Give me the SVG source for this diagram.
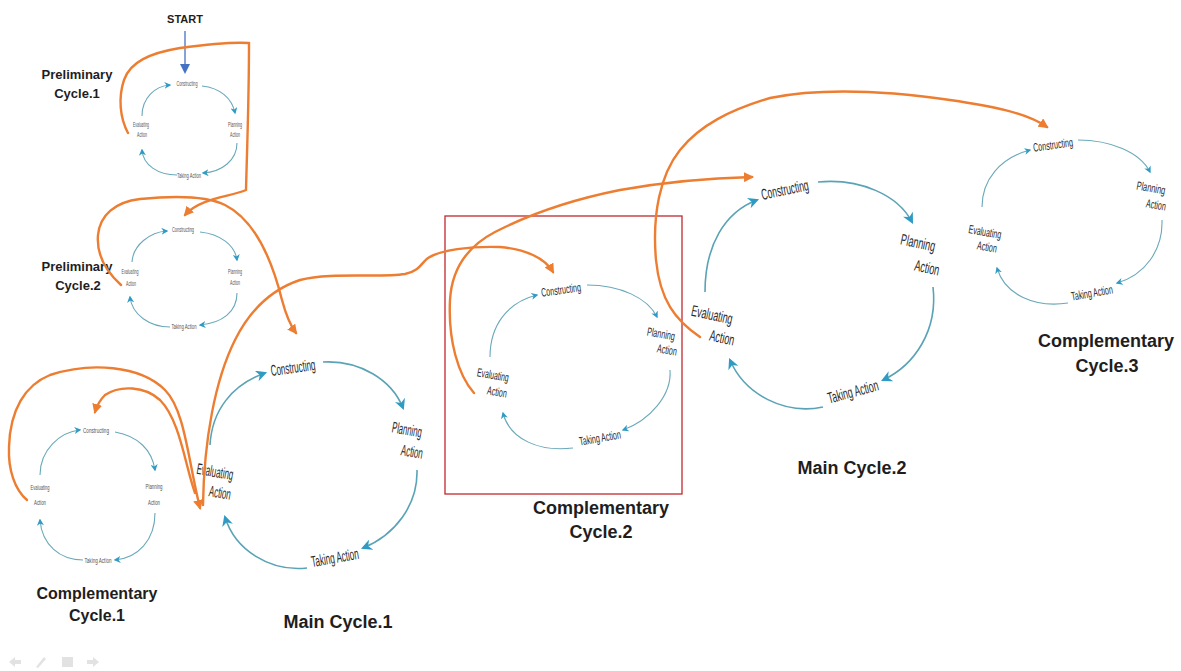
<svg xmlns="http://www.w3.org/2000/svg" width="1181" height="671" viewBox="0 0 1181 671">
  <defs>
    <marker id="ah-orange" viewBox="0 0 10 10" refX="8" refY="5" markerWidth="10" markerHeight="10" markerUnits="userSpaceOnUse" orient="auto">
      <path d="M0,0 L10,5 L0,10 z" fill="#ED7D31"/>
    </marker>
    <marker id="ah-teal" viewBox="0 0 10 10" refX="8" refY="5" markerWidth="7" markerHeight="7" markerUnits="userSpaceOnUse" orient="auto">
      <path d="M0,0 L10,5 L0,10 L3,5 z" fill="#2f9bc4"/>
    </marker>
    <marker id="ah-teal-lg" viewBox="0 0 10 10" refX="8" refY="5" markerWidth="11" markerHeight="11" markerUnits="userSpaceOnUse" orient="auto">
      <path d="M0,0 L10,5 L0,10 L3,5 z" fill="#2f9bc4"/>
    </marker>
    <marker id="ah-blue" viewBox="0 0 10 10" refX="8" refY="5" markerWidth="10" markerHeight="10" markerUnits="userSpaceOnUse" orient="auto">
      <path d="M0,0 L10,5 L0,10 z" fill="#4472C4"/>
    </marker>
  </defs>
  <style>
    .bg { fill: #ffffff; }
    .title { font-family: "Liberation Sans", Arial, sans-serif; font-weight: bold; fill: #1e1e1e; text-anchor: middle; }
    .step { font-family: "Liberation Sans", Arial, sans-serif; fill: #2a2a2a; text-anchor: middle; }
    .step-sm { font-size: 7.5px; fill: #555555; }
    .step-md { font-size: 12px; }
    .step-lg { font-size: 15.5px; }
    .arc { fill: none; stroke: #6aa9b9; stroke-width: 1.1; marker-end: url(#ah-teal); }
    .arc-lg { fill: none; stroke: #5aa3b6; stroke-width: 1.6; marker-end: url(#ah-teal-lg); }
    .link { fill: none; stroke: #ED7D31; stroke-width: 2.4; stroke-linecap: round; marker-end: url(#ah-orange); }
    .frame { fill: none; stroke: #c0282d; stroke-width: 1.3; }
    .ui { fill: #e2e2e2; }
  </style>

  <rect class="bg" x="0" y="0" width="1181" height="671"/>

  <!-- start marker -->
  <g id="start">
    <text class="title" x="185" y="23" font-size="11">START</text>
    <line x1="185" y1="31" x2="185" y2="72" stroke="#4472C4" stroke-width="1.3" marker-end="url(#ah-blue)"/>
  </g>

  <!-- Preliminary Cycle.1 -->
  <g id="preliminary-cycle-1">
    <text class="title" x="77" y="79" font-size="13">Preliminary</text>
    <text class="title" x="77" y="98" font-size="13">Cycle.1</text>
    <path class="arc" d="M142,116 C142,98 155,86 170,85"/>
    <path class="arc" d="M202,86 C220,88 232,98 235,113"/>
    <path class="arc" d="M237,143 C237,160 222,172 203,173"/>
    <path class="arc" d="M177,175 C158,175 143,165 142,150"/>
    <text class="step step-sm" x="187" y="86" textLength="21" lengthAdjust="spacingAndGlyphs">Constructing</text>
    <text class="step step-sm" x="235" y="127" textLength="14" lengthAdjust="spacingAndGlyphs">Planning</text>
    <text class="step step-sm" x="235" y="137" textLength="10" lengthAdjust="spacingAndGlyphs">Action</text>
    <text class="step step-sm" x="189" y="178" textLength="24" lengthAdjust="spacingAndGlyphs">Taking Action</text>
    <text class="step step-sm" x="141" y="127" textLength="16" lengthAdjust="spacingAndGlyphs">Evaluating</text>
    <text class="step step-sm" x="142" y="137" textLength="10" lengthAdjust="spacingAndGlyphs">Action</text>
  </g>

  <!-- Preliminary Cycle.2 -->
  <g id="preliminary-cycle-2">
    <text class="title" x="77" y="271" font-size="13">Preliminary</text>
    <text class="title" x="78" y="290" font-size="13">Cycle.2</text>
    <path class="arc" d="M132,262 C133,245 150,232 167,231"/>
    <path class="arc" d="M200,232 C220,234 235,245 237,260"/>
    <path class="arc" d="M237,293 C237,312 222,323 200,325"/>
    <path class="arc" d="M170,327 C150,327 132,315 130,297"/>
    <text class="step step-sm" x="183" y="232" textLength="22" lengthAdjust="spacingAndGlyphs">Constructing</text>
    <text class="step step-sm" x="235" y="274" textLength="14" lengthAdjust="spacingAndGlyphs">Planning</text>
    <text class="step step-sm" x="235" y="285" textLength="10" lengthAdjust="spacingAndGlyphs">Action</text>
    <text class="step step-sm" x="184" y="329" textLength="25" lengthAdjust="spacingAndGlyphs">Taking Action</text>
    <text class="step step-sm" x="130" y="274" textLength="17" lengthAdjust="spacingAndGlyphs">Evaluating</text>
    <text class="step step-sm" x="131" y="286" textLength="10" lengthAdjust="spacingAndGlyphs">Action</text>
  </g>

  <!-- Complementary Cycle.1 -->
  <g id="complementary-cycle-1">
    <text class="title" x="97" y="599" font-size="16">Complementary</text>
    <text class="title" x="97" y="621" font-size="16">Cycle.1</text>
    <path class="arc" d="M40,475 C40,450 60,432 80,430"/>
    <path class="arc" d="M115,432 C138,436 152,450 155,470"/>
    <path class="arc" d="M155,513 C155,540 138,558 115,560"/>
    <path class="arc" d="M83,560 C60,560 42,545 40,520"/>
    <text class="step step-sm" x="96" y="433" textLength="26" lengthAdjust="spacingAndGlyphs">Constructing</text>
    <text class="step step-sm" x="154" y="489" textLength="17" lengthAdjust="spacingAndGlyphs">Planning</text>
    <text class="step step-sm" x="154" y="505" textLength="12" lengthAdjust="spacingAndGlyphs">Action</text>
    <text class="step step-sm" x="98" y="563" textLength="27" lengthAdjust="spacingAndGlyphs">Taking Action</text>
    <text class="step step-sm" x="40" y="490" textLength="19" lengthAdjust="spacingAndGlyphs">Evaluating</text>
    <text class="step step-sm" x="40" y="505" textLength="12" lengthAdjust="spacingAndGlyphs">Action</text>
  </g>

  <!-- Main Cycle.1 -->
  <g id="main-cycle-1">
    <text class="title" x="338" y="628" font-size="18">Main Cycle.1</text>
    <path class="arc-lg" d="M210,445 C212,410 232,385 265,373"/>
    <path class="arc-lg" d="M323,362 C360,360 392,380 403,408"/>
    <path class="arc-lg" d="M417,470 C418,505 395,535 363,548"/>
    <path class="arc-lg" d="M307,568 C270,572 235,550 225,517"/>
    <text class="step step-lg" transform="translate(293,368) rotate(-8)" y="5" textLength="45" lengthAdjust="spacingAndGlyphs">Constructing</text>
    <text class="step step-lg" transform="translate(407,430) rotate(10)" y="5" textLength="30" lengthAdjust="spacingAndGlyphs">Planning</text>
    <text class="step step-lg" transform="translate(412,452) rotate(10)" y="5" textLength="22" lengthAdjust="spacingAndGlyphs">Action</text>
    <text class="step step-lg" transform="translate(335,558) rotate(-10)" y="5" textLength="48" lengthAdjust="spacingAndGlyphs">Taking Action</text>
    <text class="step step-lg" transform="translate(215,472) rotate(10)" y="5" textLength="37" lengthAdjust="spacingAndGlyphs">Evaluating</text>
    <text class="step step-lg" transform="translate(220,493) rotate(10)" y="5" textLength="22" lengthAdjust="spacingAndGlyphs">Action</text>
  </g>

  <!-- Complementary Cycle.2 -->
  <g id="complementary-cycle-2">
    <rect class="frame" x="445" y="216" width="237" height="278"/>
    <text class="title" x="601" y="514" font-size="18">Complementary</text>
    <text class="title" x="601" y="538" font-size="18">Cycle.2</text>
    <path class="arc" d="M490,357 C490,325 508,302 537,295"/>
    <path class="arc" d="M587,285 C620,285 648,298 657,317"/>
    <path class="arc" d="M670,370 C672,395 650,420 623,430"/>
    <path class="arc" d="M573,448 C540,452 510,440 503,413"/>
    <text class="step step-md" transform="translate(561,290) rotate(-8)" y="4" textLength="40" lengthAdjust="spacingAndGlyphs">Constructing</text>
    <text class="step step-md" transform="translate(661,334) rotate(10)" y="4" textLength="28" lengthAdjust="spacingAndGlyphs">Planning</text>
    <text class="step step-md" transform="translate(667,350) rotate(10)" y="4" textLength="20" lengthAdjust="spacingAndGlyphs">Action</text>
    <text class="step step-md" transform="translate(600,438) rotate(-10)" y="4" textLength="42" lengthAdjust="spacingAndGlyphs">Taking Action</text>
    <text class="step step-md" transform="translate(493,375) rotate(10)" y="4" textLength="32" lengthAdjust="spacingAndGlyphs">Evaluating</text>
    <text class="step step-md" transform="translate(497,392) rotate(10)" y="4" textLength="20" lengthAdjust="spacingAndGlyphs">Action</text>
  </g>

  <!-- Main Cycle.2 -->
  <g id="main-cycle-2">
    <text class="title" x="852" y="474" font-size="18">Main Cycle.2</text>
    <path class="arc-lg" d="M705,292 C705,245 725,212 757,200"/>
    <path class="arc-lg" d="M818,182 C860,178 898,195 912,222"/>
    <path class="arc-lg" d="M933,287 C938,330 915,365 883,380"/>
    <path class="arc-lg" d="M823,407 C785,415 745,395 730,360"/>
    <text class="step step-lg" transform="translate(785,190) rotate(-12)" y="5" textLength="48" lengthAdjust="spacingAndGlyphs">Constructing</text>
    <text class="step step-lg" transform="translate(918,243) rotate(12)" y="5" textLength="35" lengthAdjust="spacingAndGlyphs">Planning</text>
    <text class="step step-lg" transform="translate(927,268) rotate(12)" y="5" textLength="25" lengthAdjust="spacingAndGlyphs">Action</text>
    <text class="step step-lg" transform="translate(853,392) rotate(-15)" y="5" textLength="52" lengthAdjust="spacingAndGlyphs">Taking Action</text>
    <text class="step step-lg" transform="translate(712,315) rotate(12)" y="5" textLength="42" lengthAdjust="spacingAndGlyphs">Evaluating</text>
    <text class="step step-lg" transform="translate(722,338) rotate(12)" y="5" textLength="25" lengthAdjust="spacingAndGlyphs">Action</text>
  </g>

  <!-- Complementary Cycle.3 -->
  <g id="complementary-cycle-3">
    <text class="title" x="1106" y="347" font-size="18">Complementary</text>
    <text class="title" x="1107" y="372" font-size="18">Cycle.3</text>
    <path class="arc" d="M982,207 C982,180 1000,158 1030,150"/>
    <path class="arc" d="M1078,140 C1110,140 1140,152 1150,172"/>
    <path class="arc" d="M1162,220 C1163,250 1145,275 1117,283"/>
    <path class="arc" d="M1068,303 C1035,308 1005,295 997,268"/>
    <text class="step step-md" transform="translate(1053,145) rotate(-8)" y="4" textLength="40" lengthAdjust="spacingAndGlyphs">Constructing</text>
    <text class="step step-md" transform="translate(1151,188) rotate(10) scale(0.62,1)" y="4">Planning</text>
    <text class="step step-md" transform="translate(1156,205) rotate(10)" y="4" textLength="20" lengthAdjust="spacingAndGlyphs">Action</text>
    <text class="step step-md" transform="translate(1092,293) rotate(-10)" y="4" textLength="42" lengthAdjust="spacingAndGlyphs">Taking Action</text>
    <text class="step step-md" transform="translate(985,232) rotate(10)" y="4" textLength="33" lengthAdjust="spacingAndGlyphs">Evaluating</text>
    <text class="step step-md" transform="translate(987,247) rotate(10)" y="4" textLength="20" lengthAdjust="spacingAndGlyphs">Action</text>
  </g>

  <!-- transitions between cycles -->
  <g id="connectors">
    <path class="link" d="M128,133 C120,118 118,98 124,80 C130,62 150,53 180,48 C210,44 235,42 249,43 C249,100 247,150 246,190 C230,197 200,198 185,215"/>
    <path class="link" d="M121,285 C110,275 96,258 98,235 C100,215 115,202 140,199 C170,196 205,195 225,205 C255,220 272,260 282,300 C286,315 290,325 296,333"/>
    <path class="link" d="M203,505 C204,440 215,380 235,340 C250,310 270,290 300,280 C330,272 380,278 405,274 C420,271 422,262 428,258 C440,250 470,246 500,247 C525,249 545,258 553,272"/>
    <path class="link" d="M27,500 C15,490 8,470 9,447 C10,410 25,385 50,375 C90,362 140,365 165,390 C185,410 188,460 200,508"/>
    <path class="link" d="M195,493 C185,465 180,420 160,400 C145,386 120,385 105,395 C100,400 97,405 95,412"/>
    <path class="link" d="M474,393 C458,375 448,340 450,300 C452,265 470,245 495,232 C530,214 570,200 620,190 C670,181 710,178 752,177"/>
    <path class="link" d="M700,337 C675,320 660,300 656,260 C652,215 660,175 680,150 C700,125 730,110 770,98 C820,88 880,90 950,100 C990,106 1025,112 1047,127"/>
  </g>

  <!-- faint slideshow controls -->
  <g id="controls">
    <path class="ui" d="M9,662 L15,657 L15,660 L21,660 L21,664 L15,664 L15,667 z"/>
    <path class="ui" d="M36,667 L44,657 L46,659 L38,668 z"/>
    <rect class="ui" x="62" y="657" width="11" height="10"/>
    <path class="ui" d="M99,662 L93,657 L93,660 L87,660 L87,664 L93,664 L93,667 z"/>
  </g>
</svg>
